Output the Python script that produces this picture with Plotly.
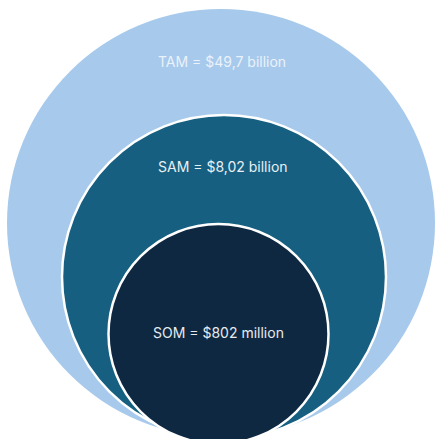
import plotly.graph_objects as go

# Market sizing: total, serviceable and obtainable market
markets = ["TAM", "SAM", "SOM"]
amounts = ["$49,7 billion", "$8,02 billion", "$802 million"]

# Circle geometry (centre x, centre y, radius) in pixel-like axis units
centres_x = [221, 224, 218.5]
centres_y = [223, 277, 334]
radii = [214, 162, 110]
fills = ["#a7c9eb", "#165f80", "#0f2841"]
outlines = [None, "white", "white"]
label_y = [61, 166, 332]
label_x = [222, 223, 218]
label_colors = ["#eaf2fb", "#e9eff4", "#e6ebf0"]

fig = go.Figure()

shapes = []
for cx, cy, r, fc, lc in zip(centres_x, centres_y, radii, fills, outlines):
    shapes.append(dict(
        type="circle", xref="x", yref="y",
        x0=cx - r, x1=cx + r, y0=cy - r, y1=cy + r,
        fillcolor=fc,
        line=dict(color=lc if lc else fc, width=2.5 if lc else 0),
        layer="below",
    ))

annotations = []
for m, a, x, y, c in zip(markets, amounts, label_x, label_y, label_colors):
    annotations.append(dict(
        x=x, y=y, xref="x", yref="y", text=f"{m} = {a}",
        showarrow=False, font=dict(family="Inter", size=14, color=c),
        xanchor="center", yanchor="middle",
    ))

# invisible trace so the axes exist
fig.add_trace(go.Scatter(x=[0], y=[0], mode="markers",
                         marker=dict(opacity=0), hoverinfo="skip",
                         showlegend=False))

fig.update_layout(
    width=435, height=439,
    margin=dict(l=0, r=0, t=0, b=0),
    paper_bgcolor="white", plot_bgcolor="white",
    shapes=shapes, annotations=annotations,
    xaxis=dict(range=[0, 435], visible=False, fixedrange=True),
    yaxis=dict(range=[439, 0], visible=False, fixedrange=True),
    showlegend=False,
)

fig.write_html("out.html", config={"displayModeBar": False})
